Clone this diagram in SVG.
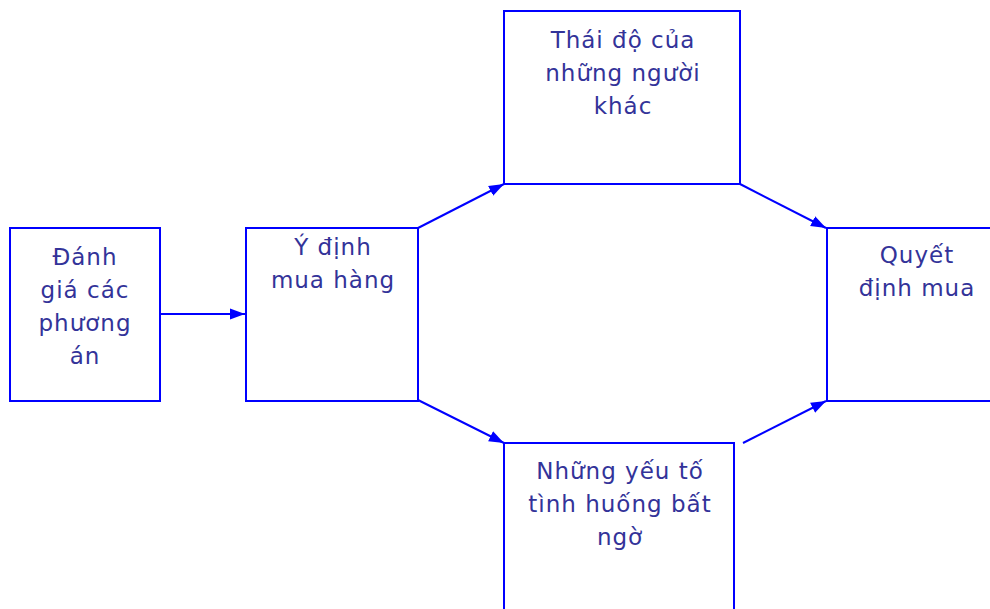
<svg xmlns="http://www.w3.org/2000/svg" width="990" height="609" viewBox="0 0 990 609">
<style>
.box{fill:#fff;stroke:#0000ff;stroke-width:2}
.lbl{font-family:"DejaVu Sans","Liberation Sans",sans-serif;font-size:23px;fill:#333399;text-anchor:middle;letter-spacing:1px}
.con{stroke:#0000ff;stroke-width:2;fill:none;marker-end:url(#ah)}
</style>
<defs>
<marker id="ah" markerUnits="userSpaceOnUse" markerWidth="16" markerHeight="12" refX="15" refY="6" orient="auto" viewBox="0 0 16 12">
<path d="M0,0.5 L15,6 L0,11.5 Z" fill="#0000ff"/>
</marker>
</defs>
<rect width="990" height="609" fill="#fff"/>
<g id="connectors">
<line class="con" x1="160" y1="314" x2="245" y2="314"/>
<line class="con" x1="418" y1="228" x2="504" y2="184"/>
<line class="con" x1="740" y1="184" x2="826" y2="228"/>
<line class="con" x1="418" y1="400" x2="504" y2="443"/>
<line class="con" x1="743" y1="443" x2="826" y2="401"/>
</g>
<g id="n1">
<rect class="box" x="10" y="228" width="150" height="173"/>
<text class="lbl"><tspan x="85" y="265">Đánh</tspan><tspan x="85" y="298">giá các</tspan><tspan x="85" y="331">phương</tspan><tspan x="85" y="364">án</tspan></text>
</g>
<g id="n2">
<rect class="box" x="246" y="228" width="172" height="173"/>
<text class="lbl"><tspan x="333" y="255">Ý định</tspan><tspan x="333" y="288">mua hàng</tspan></text>
</g>
<g id="n3">
<rect class="box" x="504" y="11" width="236" height="173"/>
<text class="lbl"><tspan x="623" y="48">Thái độ của</tspan><tspan x="623" y="81">những người</tspan><tspan x="623" y="114">khác</tspan></text>
</g>
<g id="n4">
<rect class="box" x="827" y="228" width="200" height="173"/>
<text class="lbl"><tspan x="917" y="263">Quyết</tspan><tspan x="917" y="296">định mua</tspan></text>
</g>
<g id="n5">
<rect class="box" x="504" y="443" width="230" height="200"/>
<text class="lbl"><tspan x="620" y="479">Những yếu tố</tspan><tspan x="620" y="512">tình huống bất</tspan><tspan x="620" y="545">ngờ</tspan></text>
</g>
</svg>
